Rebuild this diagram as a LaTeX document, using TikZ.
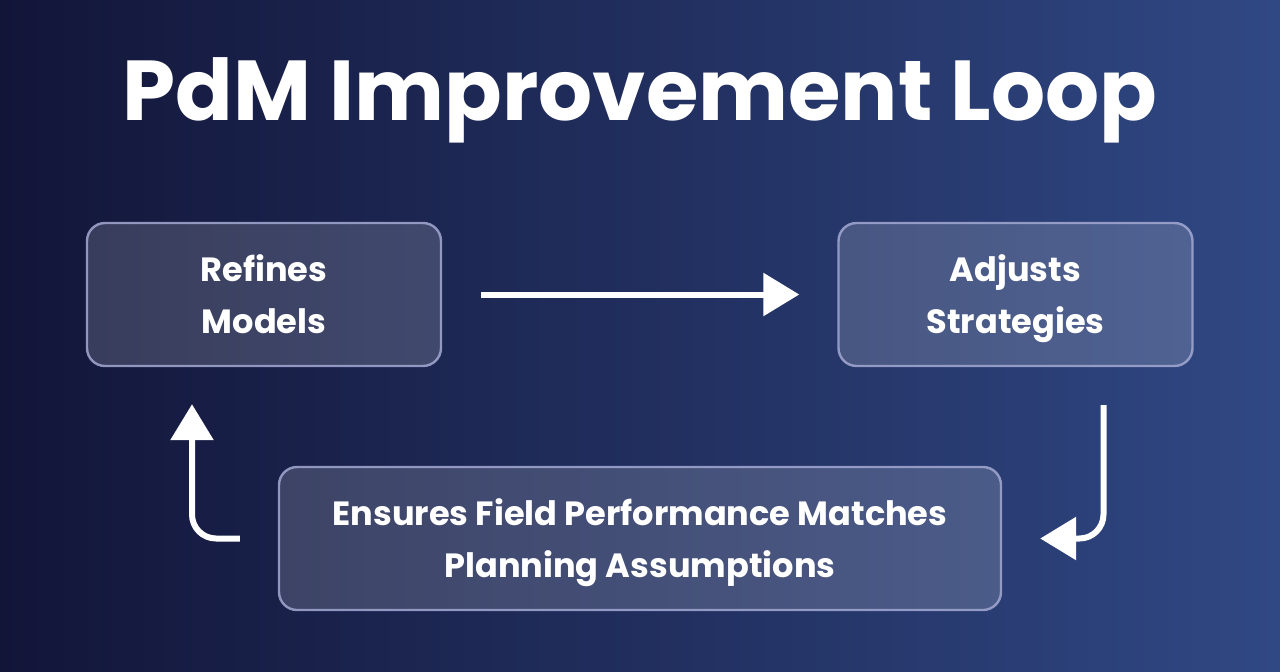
\documentclass[tikz,border=0pt]{standalone}
\usepackage{fontspec}
\setmainfont{Poppins}
\usetikzlibrary{arrows.meta,positioning,calc}
\definecolor{bgleft}{HTML}{121538}
\definecolor{bgright}{HTML}{304884}
\definecolor{edgeline}{HTML}{A3A9D2}

\begin{document}
\begin{tikzpicture}[x=1pt,y=-1pt,
box/.style={draw=edgeline,line width=2.4pt,fill=white,fill opacity=.16,text opacity=1,draw opacity=.85,rounded corners=18pt,minimum width=354pt,minimum height=143pt,align=center,text depth=0pt,text=white,font=\fontsize{33.6}{52}\selectfont\bfseries},
arrow/.style={-{Triangle[length=36pt,width=42pt]},line width=6pt,draw=white,rounded corners=24pt}]
\useasboundingbox (0,0) rectangle (1280,672);
\shade[left color=bgleft,right color=bgright] (0,0) rectangle (1280,672);
\node[text=white,font=\fontsize{85}{90}\selectfont\bfseries] (title) at (640,100) {PdM Improvement Loop};
\node[box] (refine) at (264,294.5) {Refines\\Models};
\node[box] (adjust) at (1015.5,294.5) {Adjusts\\Strategies};
\node[box,minimum width=722pt] (ensure) at (640,538.5) {Ensures Field Performance Matches\\Planning Assumptions};
\draw[arrow,shorten <=39pt,shorten >=38pt] (refine.east)--(adjust.west);
\draw[arrow] ([xshift=88pt,yshift=-38pt]adjust.south) |- ([xshift=38pt]ensure.east);
\draw[arrow] ([xshift=-38pt]ensure.west) -| ([xshift=-72pt,yshift=-37pt]refine.south);
\end{tikzpicture}
\end{document}
